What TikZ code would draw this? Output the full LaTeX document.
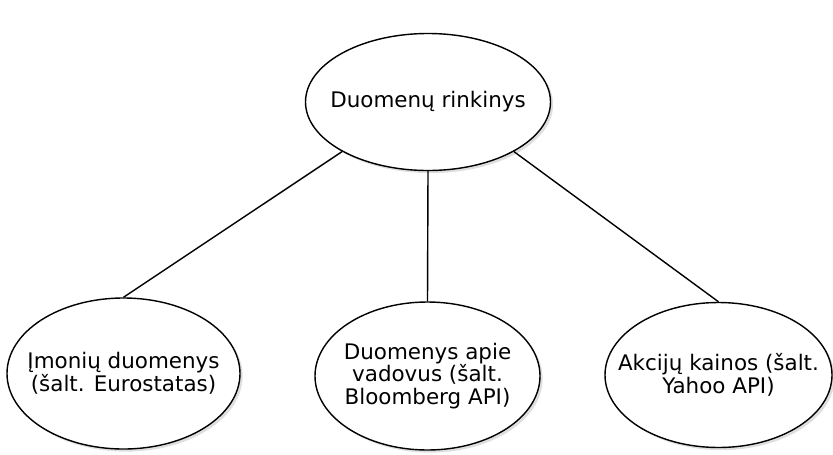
\documentclass[tikz,border=0pt]{standalone}
\usepackage{fontspec}
\setmainfont{DejaVu Sans}
\usetikzlibrary{shapes.geometric,shadows}

\tikzset{
  topic/.style={ellipse, draw, thick, fill=white, inner sep=0pt,
    drop shadow={opacity=0.25, shadow xshift=1.5pt, shadow yshift=-1.5pt}},
  topictext/.style={align=center, font=\fontsize{12.2}{12.8}\selectfont}
}

\begin{document}
\begin{tikzpicture}
  \useasboundingbox (0,0) rectangle (16.66,9.08);

  \node[topic, minimum width=4.9cm, minimum height=2.74cm,
    label={[topictext]center:Duomenų rinkinys}] (rinkinys) at (8.56,7.04) {};

  \node[topic, minimum width=4.66cm, minimum height=3.02cm,
    label={[topictext]center:Įmonių duomenys\\(šalt. Eurostatas)}] (imones) at (2.47,1.61) {};
  \node[topic, minimum width=4.5cm, minimum height=2.96cm,
    label={[topictext]center:Duomenys apie\\vadovus (šalt.\\Bloomberg API)}] (vadovai) at (8.55,1.56) {};
  \node[topic, minimum width=4.54cm, minimum height=2.9cm,
    label={[topictext]center:Akcijų kainos (šalt.\\Yahoo API)}] (akcijos) at (14.37,1.58) {};

  \draw[thick] (rinkinys.210) -- (imones.north);
  \draw[thick] (rinkinys.south) -- (vadovai.north);
  \draw[thick] (rinkinys.330) -- (akcijos.north);
\end{tikzpicture}
\end{document}
